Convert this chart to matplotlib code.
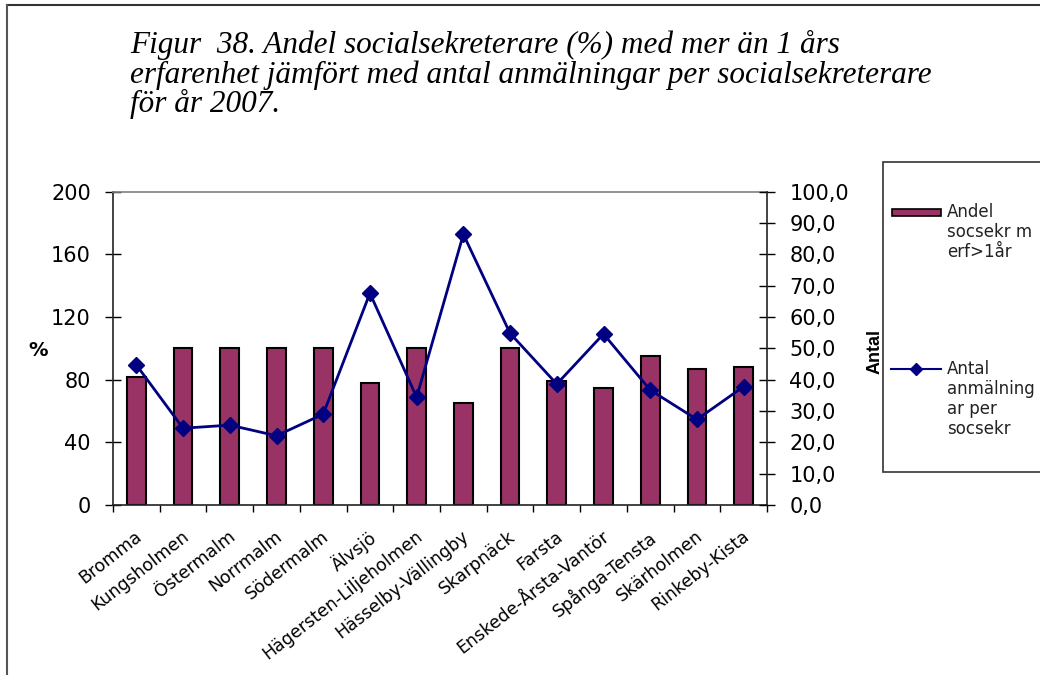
import numpy as np
import matplotlib
matplotlib.use('Agg')
import matplotlib.pyplot as plt
from matplotlib.patches import Rectangle
from matplotlib.lines import Line2D
from matplotlib.ticker import FuncFormatter, FixedLocator
from matplotlib.transforms import ScaledTranslation

# Stadsdelar, 2007
districts = ['Bromma', 'Kungsholmen', 'Östermalm', 'Norrmalm', 'Södermalm', 'Älvsjö',
             'Hägersten-Liljeholmen', 'Hässelby-Vällingby', 'Skarpnäck', 'Farsta',
             'Enskede-Årsta-Vantör', 'Spånga-Tensta', 'Skärholmen', 'Rinkeby-Kista']
share_experienced = [82, 100, 100, 100, 100, 78, 100, 65, 100, 79, 74.5, 95, 86.5, 88]
reports_per_worker = [44.7, 24.5, 25.5, 22.1, 29.0, 67.6, 34.4, 86.4, 54.8, 38.6, 54.6, 36.7, 27.3, 37.8]

left_ticks = [0, 40, 80, 120, 160, 200]
right_ticks = [0, 10, 20, 30, 40, 50, 60, 70, 80, 90, 100]

bar_label = 'Andel\nsocsekr m\nerf>1år'
line_label = 'Antal\nanmälning\nar per\nsocsekr'
title_lines = ['Figur  38. Andel socialsekreterare (%) med mer än 1 års',
               'erfarenhet jämfört med antal anmälningar per socialsekreterare',
               'för år 2007.']

BAR = '#993366'
LINE = '#000080'
W, H = 1040, 675

plt.rcParams['font.family'] = 'DejaVu Sans'
fig = plt.figure(figsize=(10.4, 6.75), dpi=100)

def fx(px):
    return px / W

def fy(py):
    return 1 - py / H

ax = fig.add_axes([fx(113), fy(505), fx(767) - fx(113), fy(191.7) - fy(505)])
x = np.arange(len(districts))
ax.bar(x, share_experienced, width=0.4, color=BAR, edgecolor='black', linewidth=1.5, zorder=2)
ax.set_xlim(-0.5, len(districts) - 0.5)
ax.set_ylim(0, 200)
ax.set_yticks(left_ticks)
ax.tick_params(axis='y', direction='inout', length=12, width=1, labelsize=15, pad=10)
ax.set_xticks(x)
ax.set_xticklabels(districts, rotation=38, ha='right', rotation_mode='anchor', fontsize=12.5)
ax.tick_params(axis='x', which='major', length=0, pad=16)
shift = ScaledTranslation(-2 / 100, 0, fig.dpi_scale_trans)
for lab in ax.get_xticklabels():
    lab.set_transform(lab.get_transform() + shift)
ax.xaxis.set_minor_locator(FixedLocator(np.arange(-0.5, len(districts), 1.0)))
ax.tick_params(axis='x', which='minor', direction='out', length=5, width=1)
for side in ['left', 'bottom']:
    ax.spines[side].set_color('#222222')
    ax.spines[side].set_linewidth(1.2)
ax.spines['top'].set_color('#808080')
ax.spines['top'].set_linewidth(1.2)
ax.spines['right'].set_visible(False)

ax2 = ax.twinx()
ax2.plot(x, reports_per_worker, color=LINE, linewidth=2, marker='D', markersize=8,
         markerfacecolor=LINE, markeredgecolor=LINE, zorder=3)
ax2.set_ylim(0, 100)
ax2.set_yticks(right_ticks)
ax2.yaxis.set_major_formatter(FuncFormatter(lambda v, p: f'{v:.1f}'.replace('.', ',')))
ax2.tick_params(axis='y', direction='inout', length=12, width=1, labelsize=15, pad=10)
for side in ['left', 'top', 'bottom']:
    ax2.spines[side].set_visible(False)
ax2.spines['right'].set_color('#222222')
ax2.spines['right'].set_linewidth(1.2)

# axis titles
fig.text(fx(38), fy(350), '%', fontsize=14, fontweight='bold', ha='center', va='center')
fig.text(fx(875), fy(351), 'Antal', fontsize=13, fontweight='bold', rotation=90,
         ha='center', va='center', family='Liberation Sans')

# title, one line at a time
for i, line in enumerate(title_lines):
    fig.text(fx(130), fy(53 + 29.5 * i), line, fontsize=22.5, style='italic',
             family='Liberation Serif', ha='left', va='baseline')

# page frame
fig.add_artist(Line2D([fx(7), fx(1040)], [fy(5), fy(5)], color='#333333', linewidth=1.5))
fig.add_artist(Line2D([fx(7), fx(7)], [fy(5), fy(675)], color='#555555', linewidth=1.5))

# legend box
fig.add_artist(Rectangle((fx(883), fy(472)), fx(1060) - fx(883), fy(162) - fy(472),
                         transform=fig.transFigure, facecolor='white', edgecolor='#333333',
                         linewidth=1.2))
fig.add_artist(Rectangle((fx(892), fy(216)), fx(941) - fx(892), fy(209) - fy(216),
                         transform=fig.transFigure, facecolor=BAR, edgecolor='black',
                         linewidth=1.2))
fig.add_artist(Line2D([fx(891), fx(916), fx(941)], [fy(369)] * 3, color=LINE, linewidth=1.5,
                      marker='D', markersize=6, markevery=[1], markerfacecolor=LINE))
fig.text(fx(947), fy(203), bar_label, fontsize=12, ha='left', va='top', linespacing=1.15,
         color='#222222')
fig.text(fx(947), fy(360), line_label, fontsize=12, ha='left', va='top', linespacing=1.15,
         color='#222222')

fig.savefig('out.png', dpi=100)
